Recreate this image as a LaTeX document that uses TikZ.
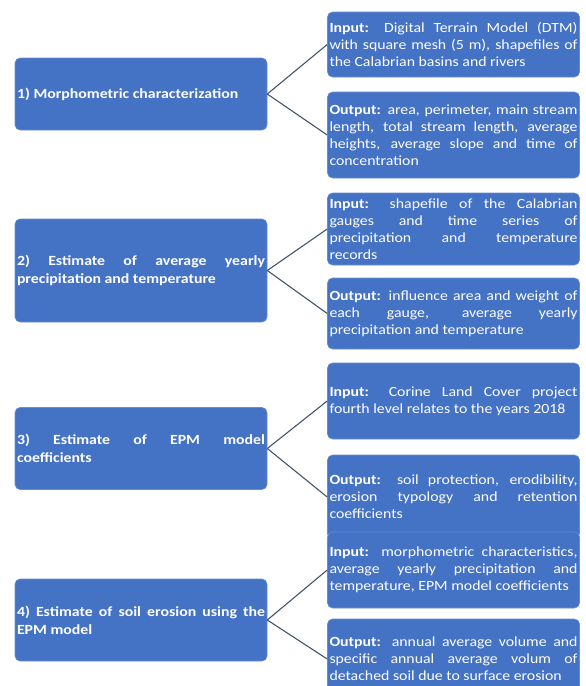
\documentclass[tikz,border=0pt]{standalone}
\usepackage{fontspec}
\setmainfont{Carlito}[FakeStretch=1.13]
\usetikzlibrary{positioning}
\definecolor{boxblue}{HTML}{4472C4}
\definecolor{linkgray}{HTML}{44546A}
\tikzset{
	flow/.style={x=1pt,y=-1pt,line join=round},
	stage/.style={rectangle,rounded corners=5pt,draw=boxblue!80!white,line width=0.6pt,
		fill=boxblue,text=white,text width=248pt,inner xsep=2pt,inner ysep=2pt,align=justify,
		font=\fontsize{14}{18}\selectfont\bfseries},
	info/.style={stage,font=\fontsize{14}{17}\selectfont},
	link/.style={draw=linkgray,line width=1.1pt}
}
\hyphenpenalty=10000
\exhyphenpenalty=10000

\begin{document}
\begin{tikzpicture}[flow]
		\useasboundingbox (0,0) rectangle (586,686);
		
		\node[stage,minimum height=72pt] (s1) at (141,94) {1) Morphometric characterization};
		\node[info,minimum height=65pt] (in1) at (453.5,44.5) {\textbf{Input:} Digital Terrain Model (DTM)\linebreak with square mesh (5 m), shapefiles of\linebreak the Calabrian basins and rivers};
		\node[info,minimum height=86pt] (out1) at (453.5,135) {\textbf{Output:} area, perimeter, main stream\linebreak length, total stream length, average\linebreak heights, average slope and time of\linebreak concentration};
		
		\node[stage,minimum height=103pt] (s2) at (141,270.5) {2) Estimate of average yearly\linebreak precipitation and temperature};
		\node[info,minimum height=72pt] (in2) at (453.5,229) {\textbf{Input:} shapefile of the Calabrian\linebreak gauges and time series of\linebreak precipitation and temperature\linebreak records};
		\node[info,minimum height=71pt] (out2) at (453.5,313.5) {\textbf{Output:} influence area and weight of\linebreak each gauge, average yearly\linebreak precipitation and temperature};
		
		\node[stage,minimum height=82pt] (s3) at (141,448.5) {3) Estimate of EPM model\linebreak coefficients};
		\node[info,minimum height=76pt] (in3) at (453.5,401) {\textbf{Input:} Corine Land Cover project\linebreak fourth level relates to the years 2018};
		\node[info,minimum height=84pt] (out3) at (453.5,497) {\textbf{Output:} soil protection, erodibility,\linebreak erosion typology and retention\linebreak coefficients};
		
		\node[stage,minimum height=82pt] (s4) at (141,620) {4) Estimate of soil erosion using the\linebreak EPM model};
		\node[info,minimum height=76pt] (in4) at (453.5,570) {\textbf{Input:} morphometric characteristics,\linebreak average yearly precipitation and\linebreak temperature, EPM model coefficients};
		\node[info,minimum height=80pt] (out4) at (453.5,659) {\textbf{Output:} annual average volume and\linebreak specific annual average volum of\linebreak detached soil due to surface erosion};
		
		% branches
		\path[link] (s1.east) edge (in1.west) edge (out1.west);
		\path[link] (s2.east) edge (in2.west) edge (out2.west);
		\path[link] (s3.east) edge (in3.west) edge (out3.west);
		\path[link] (s4.east) edge (in4.west) edge (out4.west);
		
\end{tikzpicture}
\end{document}
